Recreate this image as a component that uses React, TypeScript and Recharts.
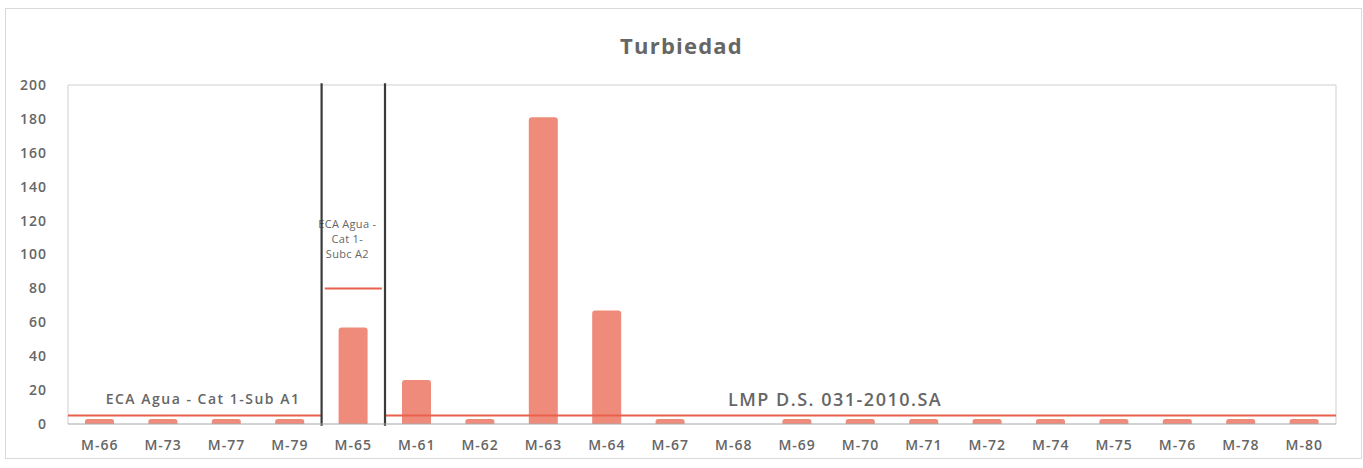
import React from 'react';
import { ComposedChart, Bar, XAxis, YAxis, ReferenceLine, ReferenceDot } from 'recharts';

const categories = ['M-66','M-73','M-77','M-79','M-65','M-61','M-62','M-63','M-64','M-67','M-68','M-69','M-70','M-71','M-72','M-74','M-75','M-76','M-78','M-80'];
const turbidity = [3,3,3,3,57,26,3,181,67,3,0,3,3,3,3,3,3,3,3,3];
const yTicks = [0,20,40,60,80,100,120,140,160,180,200];
const ecaA1 = 5;
const ecaA2 = 80;
const lmp = 5;
const title = 'Turbiedad';
const labelA1 = 'ECA Agua - Cat 1-Sub A1';
const labelA2 = ['ECA Agua -', 'Cat 1-', 'Subc A2'];
const labelLmp = 'LMP D.S. 031-2010.SA';

const data = categories.map((c, i) => ({ name: c, pos: i + 0.5, v: turbidity[i] }));

const FONT = '"Open Sans", "Noto Sans", sans-serif';
const GRAY = '#666666';
const RED = '#e9604c';
const BAR = '#ee8b7b';
const BORDER = '#cfcfcf';

const A2Label = (props: any) => {
  const vb = props.viewBox || {};
  const cx = vb.x + (vb.width || 0) / 2 - 6;
  const y0 = vb.y - 60;
  return (
    <text x={cx} y={y0} textAnchor="middle" fill={GRAY} fontSize={11} fontFamily={FONT} letterSpacing={0.3}>
      {labelA2.map((t, i) => (
        <tspan key={i} x={cx} dy={i === 0 ? 0 : 15}>{t}</tspan>
      ))}
    </text>
  );
};

export default function App() {
  return (
    <div style={{ position: 'absolute', left: 0, top: 0, width: 1363, height: 468, background: '#fff' }}>
      <div style={{ position: 'absolute', left: 5, top: 8, width: 1355, height: 449, border: '1px solid #d9d9d9' }} />
      <div style={{ position: 'absolute', left: 0, top: 30, width: 1363, textAlign: 'center', fontFamily: FONT, fontWeight: 700, fontSize: 22, letterSpacing: 1.2, color: GRAY }}>
        {title}
      </div>
      <div style={{ position: 'absolute', left: 0, top: 0 }}>
        <ComposedChart width={1363} height={468} data={data} margin={{ top: 85, right: 27, bottom: 14, left: 18 }}>
          <XAxis dataKey="name" xAxisId="c" tickLine={false} axisLine={{ stroke: '#a6a6a6' }} interval={0}
            tick={{ fill: GRAY, fontSize: 14, fontWeight: 600, letterSpacing: 1, fontFamily: FONT }} tickMargin={10} height={30} />
          <XAxis xAxisId="n" dataKey="pos" type="number" domain={[0, 20]} hide allowDataOverflow />
          <YAxis yAxisId="y" domain={[0, 200]} ticks={yTicks} tickLine={false} axisLine={false} width={50}
            tickSize={0} tickMargin={21} tick={{ fill: GRAY, fontSize: 14, fontWeight: 600, letterSpacing: 1, fontFamily: FONT }} interval={0} />
          <ReferenceLine xAxisId="n" yAxisId="y" y={200} stroke={BORDER} strokeWidth={1} ifOverflow="visible" />
          <ReferenceLine xAxisId="n" yAxisId="y" segment={[{ x: 0, y: 0 }, { x: 0, y: 200 }]} stroke={BORDER} strokeWidth={1} ifOverflow="visible" />
          <ReferenceLine xAxisId="n" yAxisId="y" segment={[{ x: 20, y: 0 }, { x: 20, y: 200 }]} stroke={BORDER} strokeWidth={1} ifOverflow="visible" />
          <Bar xAxisId="c" yAxisId="y" dataKey="v" fill={BAR} barSize={29} radius={[3, 3, 0, 0]} isAnimationActive={false} />
          <ReferenceLine xAxisId="n" yAxisId="y" segment={[{ x: 0, y: ecaA1 }, { x: 4, y: ecaA1 }]} stroke={RED} strokeWidth={2} ifOverflow="visible" />
          <ReferenceLine xAxisId="n" yAxisId="y" segment={[{ x: 5, y: lmp }, { x: 20, y: lmp }]} stroke={RED} strokeWidth={2} ifOverflow="visible" />
          <ReferenceLine xAxisId="n" yAxisId="y" segment={[{ x: 4.05, y: ecaA2 }, { x: 4.95, y: ecaA2 }]} stroke={RED} strokeWidth={2} ifOverflow="visible"
            label={<A2Label />} />
          <ReferenceLine xAxisId="n" yAxisId="y" segment={[{ x: 4, y: -1 }, { x: 4, y: 201 }]} stroke="#3a3a3a" strokeWidth={2.2} ifOverflow="visible" />
          <ReferenceLine xAxisId="n" yAxisId="y" segment={[{ x: 5, y: -1 }, { x: 5, y: 201 }]} stroke="#3a3a3a" strokeWidth={2.2} ifOverflow="visible" />
          <ReferenceDot xAxisId="n" yAxisId="y" x={2.13} y={ecaA1} r={0} fill="none" stroke="none" ifOverflow="visible"
            label={{ value: labelA1, position: 'top', offset: 12, fill: GRAY, fontSize: 14, letterSpacing: 1.5, fontFamily: FONT, fontWeight: 600 }} />
          <ReferenceDot xAxisId="n" yAxisId="y" x={12.1} y={lmp} r={0} fill="none" stroke="none" ifOverflow="visible"
            label={{ value: labelLmp, position: 'top', offset: 10, fill: GRAY, fontSize: 18, letterSpacing: 1.5, fontFamily: FONT, fontWeight: 600 }} />
        </ComposedChart>
      </div>
    </div>
  );
}
